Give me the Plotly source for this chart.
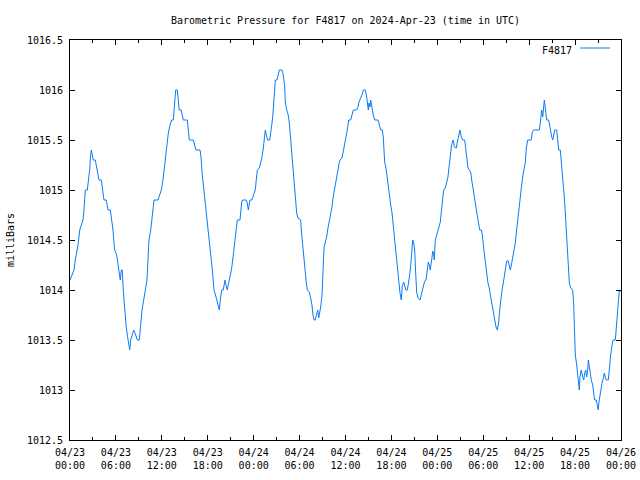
import datetime as dt
import plotly.graph_objects as go

# Hours after 2024-04-23 00:00 UTC
hours = [
    0.00, 0.52, 0.69, 0.91, 1.05, 1.27, 1.48, 1.70, 1.83, 1.92, 2.00, 2.26, 2.44, 2.57, 2.65, 2.78,
    2.91, 3.04, 3.31, 3.53, 3.79, 4.09, 4.31, 4.44, 4.74, 4.97, 5.27, 5.49, 5.62, 5.71, 5.84, 6.10,
    6.27, 6.40, 6.57, 6.70, 6.83, 6.96, 7.15, 7.32, 7.49, 7.67, 7.80, 7.93, 8.14, 8.32, 8.59, 8.79,
    9.06, 9.24, 9.41, 9.63, 9.84, 10.06, 10.19, 10.32, 10.55, 10.72, 10.85, 10.98, 11.50, 11.72, 11.93, 12.15,
    12.41, 12.54, 12.71, 12.85, 13.07, 13.29, 13.50, 13.59, 13.68, 13.81, 14.02, 14.15, 14.28, 14.54, 14.73, 14.80,
    15.33, 15.42, 15.59, 16.11, 16.30, 16.46, 16.99, 17.12, 17.25, 17.42, 17.60, 17.73, 17.86, 18.03, 18.20, 18.39,
    18.56, 18.73, 18.82, 19.08, 19.25, 19.43, 19.51, 19.69, 19.82, 20.03, 20.25, 20.38, 20.55, 20.74, 20.91, 21.13,
    21.34, 21.52, 21.69, 21.86, 22.21, 22.31, 22.44, 22.57, 23.00, 23.17, 23.30, 23.52, 23.78, 23.95, 24.21,
    24.34, 24.48, 24.74, 24.92, 25.09, 25.26, 25.39, 25.52, 25.65, 25.83, 26.10, 26.26, 26.40, 26.53, 26.66, 26.75,
    26.83, 27.05, 27.18, 27.35, 27.70, 27.87, 28.06, 28.13, 28.32, 28.49, 28.66, 28.79, 28.92, 29.10, 29.23, 29.36,
    29.49, 29.62, 29.79, 30.15, 30.22, 30.35, 30.49, 30.62, 30.75, 30.88, 31.01, 31.27, 31.45, 31.62, 31.75, 31.88,
    32.05, 32.24, 32.37, 32.50, 32.63, 32.76, 32.93, 33.06, 33.19, 33.36, 33.54, 33.71, 33.88, 34.07, 34.24, 34.37,
    34.54, 34.72, 34.89, 35.02, 35.15, 35.28, 35.54, 35.67, 35.84, 36.03, 36.16, 36.29,
    36.42, 36.68, 36.85, 37.02, 37.46, 37.63, 37.76, 37.99, 38.20, 38.33, 38.59, 38.77, 38.90, 38.98, 39.07, 39.20,
    39.29, 39.46, 39.63, 39.82, 40.25, 40.42, 40.60, 40.81, 40.94, 41.03, 41.12, 41.29, 41.46, 41.59, 41.78, 41.91,
    42.08, 42.25, 42.43, 42.60, 42.73, 42.86, 42.99, 43.12, 43.29, 43.42, 43.61, 43.74, 43.87, 44.08, 44.21, 44.39,
    44.56, 44.69, 44.78, 44.91, 45.04, 45.17, 45.30, 45.47, 45.74, 45.96, 46.13, 46.35, 46.52, 46.69, 46.82, 46.95,
    47.08, 47.26, 47.40, 47.53, 47.60, 47.73, 47.92, 48.09, 48.26,
    48.39, 48.52, 48.70, 48.83, 49.04, 49.22, 49.39, 49.56, 49.69, 49.83, 49.96, 50.09, 50.22, 50.35, 50.48, 50.61,
    50.79, 50.96, 51.13, 51.31, 51.58, 51.75, 51.88, 52.01, 52.18, 52.36, 52.49, 52.62, 52.79, 52.96, 53.14, 53.27,
    53.41, 53.54, 53.75, 53.88, 54.01, 54.14, 54.27, 54.45, 54.62, 54.79, 54.97, 55.14, 55.31, 55.50, 55.67, 55.84,
    56.02, 56.15, 56.28, 56.45, 56.62, 56.80, 56.93, 57.06, 57.27, 57.40, 57.54, 57.72, 57.85, 58.02, 58.19, 58.32,
    58.45, 58.63, 58.76, 58.89, 59.02, 59.15, 59.32, 59.50, 59.63, 59.81, 60.28,
    60.41, 60.59, 61.32, 61.45, 61.54, 61.64, 61.77, 61.90, 61.98, 62.07, 62.20, 62.29, 62.55, 62.68, 62.81, 62.95,
    63.08, 63.21, 63.34, 63.60, 63.73, 63.86, 64.07, 64.20, 64.33, 64.46, 64.59, 64.72, 64.85, 64.98, 65.11, 65.25,
    65.43, 65.69, 65.82, 65.90, 66.03, 66.21, 66.34, 66.47, 66.55, 66.64, 66.81, 66.94, 67.13, 67.26, 67.39, 67.52,
    67.65, 67.73, 67.86, 67.99, 68.12, 68.30, 68.43, 68.56, 68.77, 68.91, 69.03, 69.12, 69.26, 69.39, 69.52, 69.69,
    69.82, 69.95, 70.08, 70.34, 70.47, 70.65, 70.79, 70.96, 71.26, 71.39, 71.52, 71.65, 71.78, 71.87,
]

pressure = [
    1014.10, 1014.20, 1014.30, 1014.40, 1014.45, 1014.60, 1014.65, 1014.70, 1014.80, 1014.95, 1015.00, 1015.00, 1015.10, 1015.20, 1015.30, 1015.40,
    1015.35, 1015.30, 1015.30, 1015.20, 1015.10, 1015.10, 1015.00, 1014.90, 1014.90, 1014.80, 1014.80, 1014.70, 1014.60, 1014.50, 1014.40, 1014.35,
    1014.25, 1014.20, 1014.10, 1014.20, 1014.20, 1014.00, 1013.80, 1013.65, 1013.55, 1013.45, 1013.40, 1013.50, 1013.55, 1013.60, 1013.55, 1013.50,
    1013.50, 1013.65, 1013.80, 1013.90, 1014.00, 1014.10, 1014.30, 1014.50, 1014.60, 1014.70, 1014.80, 1014.90, 1014.90, 1014.95, 1015.00, 1015.10,
    1015.28, 1015.35, 1015.45, 1015.57, 1015.65, 1015.70, 1015.70, 1015.78, 1015.93, 1016.00, 1016.00, 1015.87, 1015.80, 1015.80, 1015.73, 1015.70,
    1015.70, 1015.60, 1015.50, 1015.50, 1015.45, 1015.40, 1015.40, 1015.33, 1015.18, 1015.05, 1014.95, 1014.83, 1014.68, 1014.55, 1014.45, 1014.35,
    1014.23, 1014.10, 1014.00, 1013.93, 1013.88, 1013.83, 1013.80, 1013.93, 1014.00, 1014.00, 1014.10, 1014.05, 1014.00, 1014.07, 1014.13, 1014.22,
    1014.35, 1014.47, 1014.60, 1014.70, 1014.70, 1014.77, 1014.88, 1014.90, 1014.90, 1014.87, 1014.80, 1014.90, 1014.90, 1014.94, 1015.00,
    1015.10, 1015.20, 1015.22, 1015.28, 1015.33, 1015.42, 1015.50, 1015.60, 1015.55, 1015.50, 1015.50, 1015.58, 1015.67, 1015.77, 1015.88, 1016.02,
    1016.10, 1016.10, 1016.14, 1016.20, 1016.20, 1016.15, 1016.03, 1015.88, 1015.80, 1015.76, 1015.67, 1015.55, 1015.43, 1015.32, 1015.18, 1015.03,
    1014.88, 1014.77, 1014.72, 1014.70, 1014.60, 1014.48, 1014.40, 1014.32, 1014.18, 1014.07, 1014.00, 1013.98, 1013.92, 1013.85, 1013.75, 1013.70,
    1013.70, 1013.75, 1013.80, 1013.72, 1013.77, 1013.83, 1013.95, 1014.20, 1014.42, 1014.48, 1014.53, 1014.62, 1014.68, 1014.76, 1014.83, 1014.92,
    1015.00, 1015.07, 1015.13, 1015.23, 1015.26, 1015.30, 1015.32, 1015.37, 1015.43, 1015.50, 1015.57, 1015.63,
    1015.70, 1015.70, 1015.77, 1015.80, 1015.80, 1015.83, 1015.88, 1015.92, 1015.96, 1016.00, 1016.00, 1015.93, 1015.87, 1015.80, 1015.87, 1015.83,
    1015.90, 1015.82, 1015.75, 1015.70, 1015.70, 1015.65, 1015.60, 1015.60, 1015.53, 1015.40, 1015.28, 1015.22, 1015.10, 1015.02, 1014.93, 1014.85,
    1014.77, 1014.63, 1014.47, 1014.37, 1014.28, 1014.17, 1014.05, 1013.97, 1013.90, 1014.04, 1014.08, 1014.03, 1014.00, 1014.00, 1014.05, 1014.15,
    1014.28, 1014.42, 1014.50, 1014.47, 1014.40, 1014.17, 1013.98, 1013.92, 1013.90, 1013.97, 1014.03, 1014.09, 1014.10, 1014.20, 1014.28, 1014.25,
    1014.20, 1014.30, 1014.39, 1014.35, 1014.30, 1014.50, 1014.55, 1014.58, 1014.63,
    1014.68, 1014.78, 1014.93, 1015.00, 1015.02, 1015.08, 1015.13, 1015.25, 1015.35, 1015.43, 1015.48, 1015.50, 1015.43, 1015.42, 1015.42, 1015.48,
    1015.53, 1015.60, 1015.53, 1015.50, 1015.50, 1015.38, 1015.27, 1015.22, 1015.20, 1015.18, 1015.10, 1015.02, 1014.93, 1014.87, 1014.78, 1014.72,
    1014.66, 1014.60, 1014.60, 1014.55, 1014.45, 1014.35, 1014.27, 1014.17, 1014.07, 1014.02, 1013.93, 1013.85, 1013.78, 1013.70, 1013.63, 1013.60,
    1013.68, 1013.80, 1013.92, 1014.00, 1014.07, 1014.15, 1014.25, 1014.29, 1014.29, 1014.23, 1014.20, 1014.27, 1014.32, 1014.37, 1014.47, 1014.57,
    1014.67, 1014.75, 1014.87, 1014.97, 1015.05, 1015.13, 1015.20, 1015.28, 1015.42, 1015.50, 1015.50,
    1015.58, 1015.60, 1015.60, 1015.67, 1015.75, 1015.80, 1015.73, 1015.82, 1015.90, 1015.85, 1015.75, 1015.70, 1015.70, 1015.63, 1015.58, 1015.53,
    1015.50, 1015.57, 1015.60, 1015.60, 1015.47, 1015.40, 1015.40, 1015.30, 1015.17, 1015.05, 1014.93, 1014.78, 1014.62, 1014.40, 1014.20, 1014.07,
    1014.02, 1014.00, 1013.85, 1013.55, 1013.35, 1013.25, 1013.15, 1013.05, 1013.00, 1013.13, 1013.20, 1013.15, 1013.10, 1013.17, 1013.20, 1013.13,
    1013.20, 1013.30, 1013.22, 1013.15, 1013.10, 1013.05, 1012.95, 1012.90, 1012.90, 1012.85, 1012.80, 1012.88, 1012.95, 1013.02, 1013.07, 1013.12,
    1013.17, 1013.13, 1013.10, 1013.10, 1013.25, 1013.35, 1013.43, 1013.50, 1013.50, 1013.65, 1013.77, 1013.92, 1014.00, 1013.98,
]

start = dt.datetime(2024, 4, 23, 0, 0)
times = [start + dt.timedelta(hours=h) for h in hours]

station = "F4817"
title_text = "Barometric Pressure for F4817 on 2024-Apr-23 (time in UTC)"
y_label = "milliBars"
x_range = ["2024-04-23 00:00", "2024-04-26 00:00"]
y_range = [1012.5, 1016.5]
line_color = "#0a7cf5"
FONT = "DejaVu Sans Mono"

fig = go.Figure()
fig.add_trace(go.Scatter(
    x=times, y=pressure, mode="lines", name=station,
    line=dict(color=line_color, width=1), showlegend=False,
))

fig.update_layout(
    width=640, height=480,
    margin=dict(l=70, r=19, t=40, b=40, pad=0),
    paper_bgcolor="white", plot_bgcolor="white",
    font=dict(family=FONT, size=10, color="black"),
    title=dict(text=title_text, x=0.5, xref="paper", xanchor="center", y=1 - 20 / 480,
               yanchor="middle", yref="container", font=dict(family=FONT, size=10)),
)

fig.update_xaxes(
    type="date", range=x_range, dtick=6 * 3600 * 1000, tick0="2024-04-23 00:00",
    tickformat="%m/%d<br>%H:%M", ticks="inside", ticklen=5, tickcolor="black",
    ticklabelstandoff=3,
    showline=True, linecolor="black", linewidth=1, mirror="ticks",
    showgrid=False, zeroline=False, automargin=False,
    minor=dict(dtick=3 * 3600 * 1000, ticks="inside", ticklen=3, tickcolor="black", showgrid=False),
    tickfont=dict(family=FONT, size=10),
)
fig.update_yaxes(
    range=y_range, dtick=0.5, tick0=1012.5, ticks="inside", ticklen=5, tickcolor="black",
    tickformat="~f", ticklabelstandoff=4,
    showline=True, linecolor="black", linewidth=1, mirror="ticks",
    showgrid=False, zeroline=False, automargin=False,
    title=dict(text=y_label, font=dict(family=FONT, size=10), standoff=10),
    tickfont=dict(family=FONT, size=10),
)

# Legend in gnuplot style: text followed by the line sample
fig.add_annotation(
    x=(574 - 70) / 551, y=(440 - 50) / 400, xref="paper", yref="paper", text=station,
    showarrow=False, xanchor="right", yanchor="middle", font=dict(family=FONT, size=10),
)
fig.add_shape(
    type="line", xref="paper", yref="paper",
    x0=(580 - 70) / 551, x1=(610 - 70) / 551, y0=(440 - 48) / 400, y1=(440 - 48) / 400,
    line=dict(color=line_color, width=1),
)

fig.write_html("out.html", config={"displayModeBar": False},
               post_script="document.body.style.margin='0';")
